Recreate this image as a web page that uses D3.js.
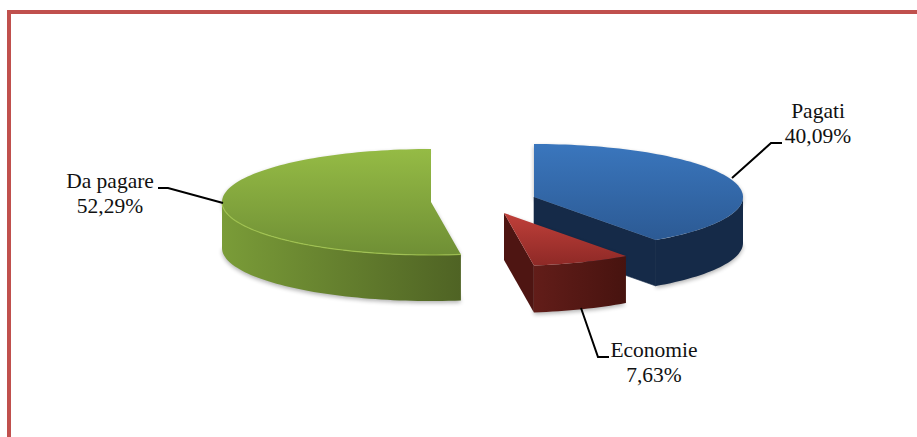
<!DOCTYPE html>
<html>
<head>
<meta charset="utf-8">
<script src="https://cdn.jsdelivr.net/npm/d3@7/dist/d3.min.js"></script>
<style>
html,body{margin:0;padding:0;background:#fff;}
svg{display:block;}
text{font-family:"Liberation Serif","Times New Roman",serif;font-size:21.5px;fill:#111;}
</style>
</head>
<body>
<svg id="chart" width="917" height="437"></svg>
<script>
// Budget split, in percent, clockwise from twelve o'clock
const categories = ["Pagati", "Economie", "Da pagare"];
const values = [40.09, 7.63, 52.29];

const topColors = [["#3A76BD", "#2C5A94"], ["#C0403A", "#8E2926"], ["#95BB45", "#6F8F35"]];
const sideColors = [["#152A48", "#152A48"], ["#621D19", "#47130F"], ["#7A9C38", "#4F6324"]];

const rx = 209, ry = 53;
const depths = [46, 47, 46];
// Apex of every exploded slice
const apexes = [[534, 197], [504, 213], [431, 202]];
// Anchor of the two-line label and the leader line of every slice
const labelAt = [[818, 118], [654, 357], [110, 188]];
const leaders = [
  [[732, 178], [771, 143], [782, 143]],
  [[581, 308], [598, 357], [609, 357]],
  [[223, 203], [168, 188], [158, 188]]
];

const svg = d3.select("#chart");
const defs = svg.append("defs");

const pie = d3.pie().sort(null).value(d => d)(values);
const xUnit = d3.scaleLinear().domain([-1, 1]).range([-rx, rx]);
const yUnit = d3.scaleLinear().domain([-1, 1]).range([-ry, ry]);
const px = (i, a) => apexes[i][0] + xUnit(Math.sin(a));
const py = (i, a) => apexes[i][1] - yUnit(Math.cos(a));

function arcPoints(i, a0, a1, dy = 0) {
  const n = Math.max(2, Math.ceil(Math.abs(a1 - a0) / 0.03));
  return d3.range(n + 1).map(k => {
    const a = a0 + (a1 - a0) * k / n;
    return [px(i, a), py(i, a) + dy];
  });
}
const line = d3.line();

const soft = defs.append("filter").attr("id", "soft")
  .attr("x", "-10%").attr("y", "-10%").attr("width", "120%").attr("height", "120%");
soft.append("feGaussianBlur").attr("stdDeviation", 2);

function gradient(id, stops, vertical) {
  const g = defs.append("linearGradient").attr("id", id)
    .attr("x1", 0).attr("y1", 0)
    .attr("x2", vertical ? 0 : 1).attr("y2", vertical ? 1 : 0);
  stops.forEach((c, k) => g.append("stop").attr("offset", k / (stops.length - 1)).attr("stop-color", c));
}
pie.forEach((_, i) => {
  gradient("top" + i, topColors[i], true);
  gradient("side" + i, sideColors[i], false);
});

function drawSlice(i) {
  const s = pie[i];
  const depth = depths[i];
  const g = svg.append("g");
  const apex = apexes[i];
  const top = [apex, ...arcPoints(i, s.startAngle, s.endAngle)];
  const quarter = Math.PI / 2, half = Math.PI * 3 / 2;
  // Only the part of the rim facing the viewer gets an outer wall
  const a0 = Math.max(s.startAngle, quarter), a1 = Math.min(s.endAngle, half);
  const upper = arcPoints(i, a0, a1);
  const lower = arcPoints(i, a1, a0, depth);
  const wall = [...upper, ...lower];

  // Soft drop shadow behind the walls
  g.append("path")
    .attr("d", line([...top, ...lower]) + "Z")
    .attr("transform", "translate(0,2)")
    .attr("fill", "#000").attr("opacity", 0.3).attr("filter", "url(#soft)");

  // Cut faces that look toward the viewer
  const end = [px(i, s.endAngle), py(i, s.endAngle)];
  if (i === 0) {
    g.append("path").attr("fill", sideColors[0][0]).attr("stroke", sideColors[0][0]).attr("stroke-width", 0.6)
      .attr("d", line([apex, end, [end[0], end[1] + depth], [apex[0], apex[1] + depth]]) + "Z");
  }
  if (i === 1) {
    g.append("path").attr("fill", "#4E1512")
      .attr("d", line([apex, end, [end[0], end[1] + depth], [apex[0], apex[1] + depth]]) + "Z");
  }
  g.append("path").attr("d", line(wall) + "Z").attr("fill", `url(#side${i})`);
  g.append("path").attr("d", line(top) + "Z").attr("fill", `url(#top${i})`);
  if (i === 2) {
    g.append("path").attr("d", line(arcPoints(i, a0, a1).slice().reverse()))
      .attr("fill", "none").attr("stroke", "#A5C850").attr("stroke-width", 1.2).attr("opacity", 0.8);
  }
}
[0, 2, 1].forEach(drawSlice);

// Frame: only the left and top sides fall inside the view
svg.append("path")
  .attr("d", line([[9, 437], [9, 12], [917, 12]]))
  .attr("fill", "none").attr("stroke", "#C0504D").attr("stroke-width", 4);

// Leader lines
svg.selectAll("path.leader").data(leaders).join("path").attr("class", "leader")
  .attr("d", d => line(d)).attr("fill", "none").attr("stroke", "#000").attr("stroke-width", 2);

// Two-line labels: name, then percentage with a decimal comma
const fmt = v => v.toFixed(2).replace(".", ",") + "%";
const labels = svg.selectAll("text.label").data(categories).join("text").attr("class", "label")
  .attr("text-anchor", "middle")
  .attr("transform", (d, i) => `translate(${labelAt[i][0]},${labelAt[i][1]})`);
labels.append("tspan").attr("x", 0).attr("y", 0).text(d => d);
labels.append("tspan").attr("x", 0).attr("y", 25).text((d, i) => fmt(values[i]));
</script>
</body>
</html>
